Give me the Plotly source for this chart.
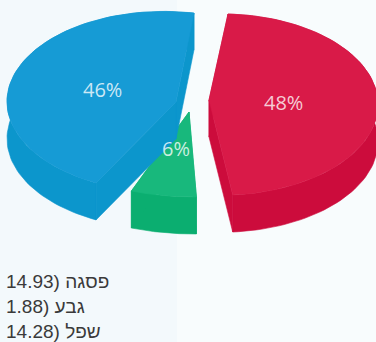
import math
import plotly.graph_objects as go

# data
categories = ["פסגה", "גבע", "שפל"]
values = [14.93, 1.88, 14.28]

# styling and placement of each slice of the tilted pie
top_colors = ["#d91a48", "#18b87c", "#169bd5"]
wall_colors = ["#cc0c3c", "#0bae70", "#0c96cc"]
apex = [(209, 100), (189, 112), (176, 102)]
arc_center = [(220.6, 104.6), (194, 107), (164, 101.6)]
arc_radius = [(157.4, 90.7), (175, 90), (157, 90.2)]
start_deg = [87.3, -89.2, 79.0]      # travelling direction below
direction = [-1, -1, 1]
label_pos = [(283, 102), (176, 148), (102, 89)]
depth = 37

total = sum(values)
fig = go.Figure()


def poly(points, color):
    xs = [p[0] for p in points] + [points[0][0]]
    ys = [p[1] for p in points] + [points[0][1]]
    fig.add_trace(go.Scatter(x=xs, y=ys, mode="lines", fill="toself", fillcolor=color,
                             line=dict(color=color, width=0.6), hoverinfo="skip",
                             showlegend=False))


for i in range(len(values)):
    sweep = values[i] / total * 360 * direction[i]
    n = 80
    arc = []
    for k in range(n + 1):
        t = math.radians(start_deg[i] + sweep * k / n)
        arc.append((arc_center[i][0] + arc_radius[i][0] * math.cos(t),
                    arc_center[i][1] - arc_radius[i][1] * math.sin(t)))
    down = lambda pts: [(x, y + depth) for x, y in pts]
    a = apex[i]
    poly(arc + down(arc)[::-1], wall_colors[i])
    poly([a, arc[0]] + down([arc[0], a]), wall_colors[i])
    poly([a, arc[-1]] + down([arc[-1], a]), wall_colors[i])
    poly([a] + arc, top_colors[i])

for i in range(len(values)):
    fig.add_annotation(x=label_pos[i][0], y=label_pos[i][1], showarrow=False,
                       text=f"{round(values[i] / total * 100)}%",
                       font=dict(family="Open Sans, sans-serif", size=20,
                                 color="rgba(255,255,255,0.78)"))

legend_y = [281, 306, 331]
for name, v, y in zip(categories, values, legend_y):
    fig.add_annotation(x=4, y=y, xanchor="left", yanchor="middle", showarrow=False,
                       text=f"\u202b{name} ({v:.2f}\u202c",
                       font=dict(family="Liberation Sans, DejaVu Sans, sans-serif",
                                 size=19, color="#3a3a3a"))

fig.update_layout(
    width=376, height=342, margin=dict(l=0, r=0, t=0, b=0),
    paper_bgcolor="#f8fcfd", plot_bgcolor="rgba(0,0,0,0)",
    xaxis=dict(range=[0, 376], visible=False, fixedrange=True),
    yaxis=dict(range=[342, 0], visible=False, fixedrange=True),
    shapes=[
        dict(type="rect", xref="x", yref="y", x0=0, x1=177, y0=0, y1=342,
             fillcolor="#f3f9fc", line_width=0, layer="below"),
    ],
)
fig.write_html("out.html", config=dict(displayModeBar=False),
               post_script="document.body.style.margin='0';document.documentElement.style.overflow='hidden';")
